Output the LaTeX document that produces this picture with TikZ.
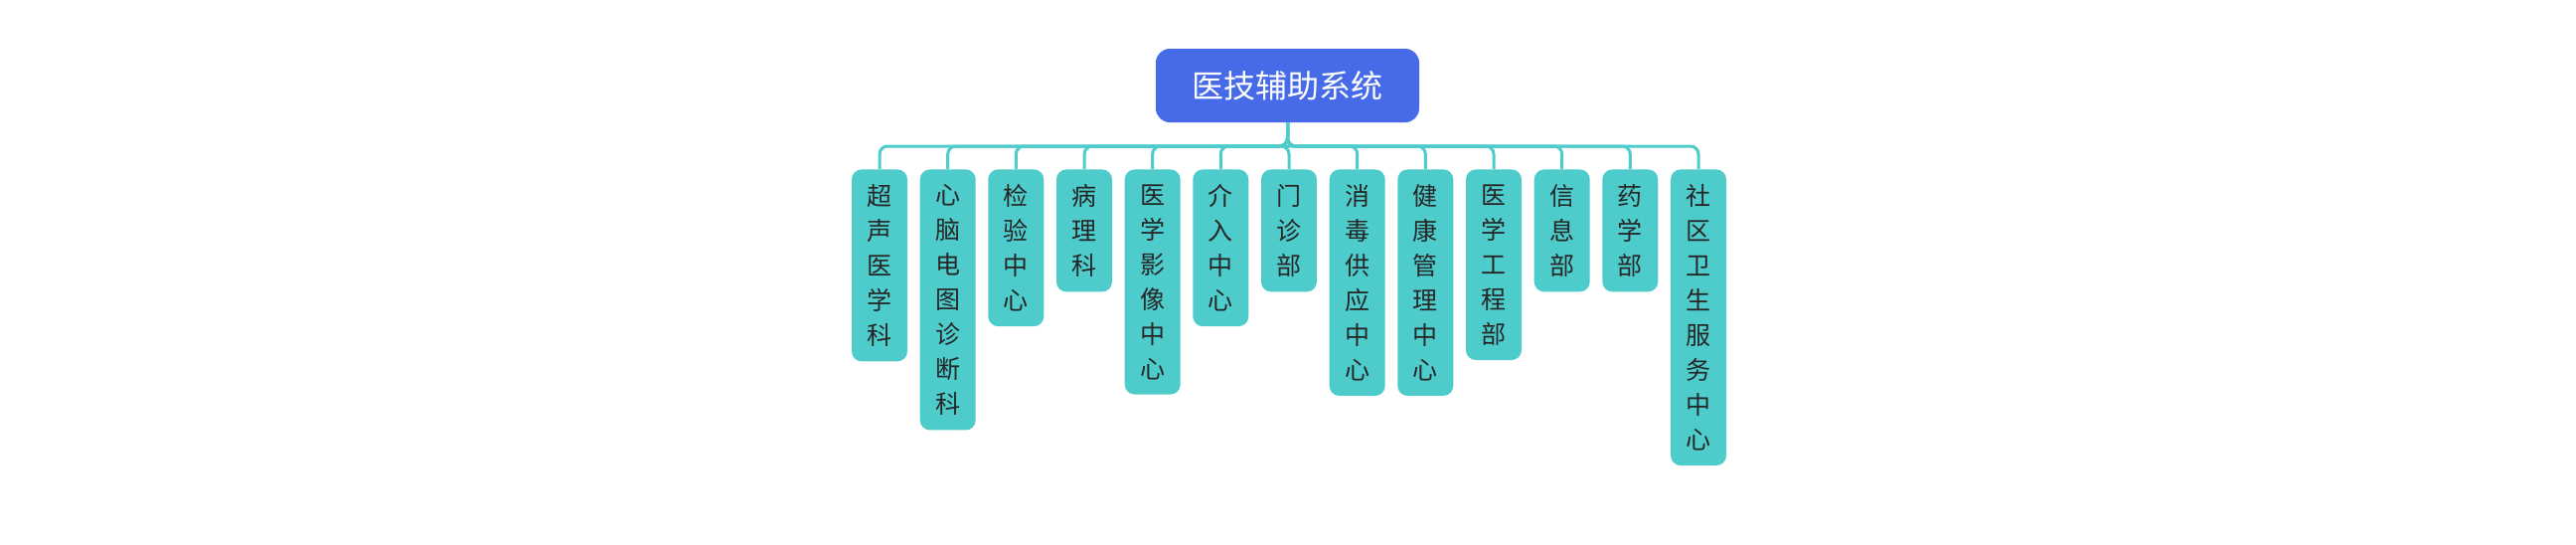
\documentclass[tikz,border=0pt]{standalone}
\usepackage{fontspec}
\newfontfamily\cjk{Noto Sans CJK SC}
\definecolor{rootc}{RGB}{70,106,232}
\definecolor{tealc}{RGB}{78,204,204}
\tikzset{
 rootbox/.style={fill=rootc,rounded corners=7pt,minimum width=132.5pt,minimum height=37pt,text=white,font=\cjk\fontsize{16}{18}\selectfont,inner sep=0pt},
 kid/.style={fill=tealc,rounded corners=5pt,minimum width=28pt,anchor=north,align=center,font=\cjk\fontsize{12.5}{17.5}\selectfont,inner xsep=0pt,inner ysep=7.5pt,text=black!85},
 conn/.style={draw=tealc,line width=1.5pt,rounded corners=4pt}
}
\begin{document}
\begin{tikzpicture}[x=0.5pt,y=-0.5pt]
\useasboundingbox (0,0) rectangle (2592,547);
\node[rootbox] (root) at (1295.5,86) {医技辅助系统};
\coordinate (bus) at (1295.5,147);
\def\xx#1{885+68.67*#1}
\node[kid] (c0) at (885,170) {超\\声\\医\\学\\科};
\node[kid] (c1) at (953.7,170) {心\\脑\\电\\图\\诊\\断\\科};
\node[kid] (c2) at (1022.3,170) {检\\验\\中\\心};
\node[kid] (c3) at (1091,170) {病\\理\\科};
\node[kid] (c4) at (1159.7,170) {医\\学\\影\\像\\中\\心};
\node[kid] (c5) at (1228.3,170) {介\\入\\中\\心};
\node[kid] (c6) at (1297,170) {门\\诊\\部};
\node[kid] (c7) at (1365.7,170) {消\\毒\\供\\应\\中\\心};
\node[kid] (c8) at (1434.3,170) {健\\康\\管\\理\\中\\心};
\node[kid] (c9) at (1503,170) {医\\学\\工\\程\\部};
\node[kid] (c10) at (1571.7,170) {信\\息\\部};
\node[kid] (c11) at (1640.3,170) {药\\学\\部};
\node[kid] (c12) at (1709,170) {社\\区\\卫\\生\\服\\务\\中\\心};
\foreach \i in {0,...,12} \draw[conn] (root.south) -- (bus) -| (c\i.north);
\end{tikzpicture}
\end{document}
